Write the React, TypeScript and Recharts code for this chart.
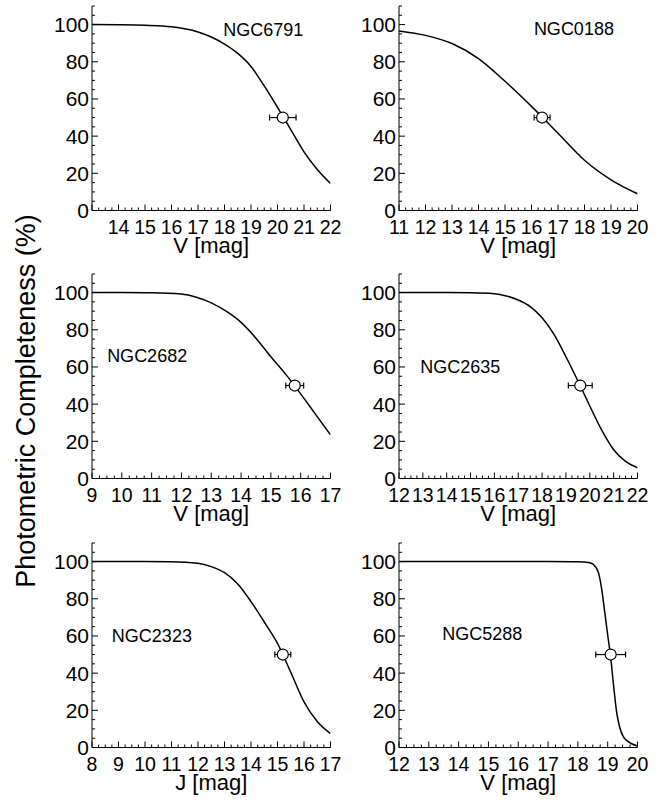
import React from "react";
import { ComposedChart, Line, Scatter, ErrorBar, XAxis, YAxis, ReferenceDot } from "recharts";

const FONT = '"Liberation Sans", Arial, Helvetica, sans-serif';

// completeness curves (magnitude -> %)
const ngc6791Mag = [13, 14, 15, 16, 17, 17.5, 18, 18.5, 19, 19.5, 20, 20.5, 21, 21.5, 22];
const ngc6791Comp = [100, 99.9, 99.6, 98.8, 96, 93.3, 89.5, 84.5, 77.5, 67, 55.5, 43.5, 31.5, 22, 14.5];

const ngc0188Mag = [11, 12, 13, 14, 15, 16, 17, 18, 19, 20];
const ngc0188Comp = [96.6, 94.2, 89.8, 81.7, 69.5, 56, 41.5, 27, 16.5, 9];

const ngc2682Mag = [9, 10, 11, 12, 12.5, 13, 13.5, 14, 14.5, 15, 15.5, 16, 16.5, 17];
const ngc2682Comp = [100, 100, 99.9, 99.2, 97.5, 94.5, 90, 84, 75.5, 65.5, 56, 45.5, 34.5, 23.5];

const ngc2635Mag = [12, 13, 14, 15, 16, 16.5, 17, 17.5, 18, 18.5, 19, 19.5, 20, 20.5, 21, 21.5, 22];
const ngc2635Comp = [100, 100, 100, 99.9, 99.4, 98.2, 96, 92.5, 86.5, 77.5, 65.5, 52.5, 39, 26, 15.5, 9.2, 5.8];

const ngc2323Mag = [8, 9, 10, 11, 12, 12.5, 13, 13.5, 14, 14.5, 15, 15.5, 16, 16.5, 17];
const ngc2323Comp = [100, 100, 100, 99.9, 99.1, 97.3, 94, 88, 78.5, 67.5, 56, 40.5, 24.5, 14, 7.5];

const ngc5288Mag = [12, 14, 16, 17, 18, 18.4, 18.6, 18.7, 18.8, 18.9, 19, 19.1, 19.2, 19.3, 19.4, 19.5, 19.7, 20];
const ngc5288Comp = [100, 100, 100, 100, 99.9, 99.4, 97, 93.5, 85, 73, 60.5, 48.5, 33, 19, 11, 6.5, 3, 0.8];

// 50% completeness magnitude and its error
const halfMag = [20.2, 16.4, 15.8, 19.6, 15.2, 19.1];
const halfErr = [0.5, 0.3, 0.3, 0.5, 0.3, 0.5];

const clusterNames = ["NGC6791", "NGC0188", "NGC2682", "NGC2635", "NGC2323", "NGC5288"];
const xTitles = ["V [mag]", "V [mag]", "V [mag]", "V [mag]", "J [mag]", "V [mag]"];
const yLabels = [0, 20, 40, 60, 80, 100];

const steps = (a: number, b: number, s: number) => {
  const out: number[] = [];
  for (let v = a; v <= b + 1e-9; v += s) out.push(+v.toFixed(2));
  return out;
};

const panels = [
  { mags: ngc6791Mag, comp: ngc6791Comp, dom: [13, 22], labels: steps(14, 22, 1), lab: [19.46, 97.5], left: 42, top: 4 },
  { mags: ngc0188Mag, comp: ngc0188Comp, dom: [11, 20], labels: steps(11, 20, 1), lab: [17.6, 98], left: 349, top: 4 },
  { mags: ngc2682Mag, comp: ngc2682Comp, dom: [9, 17], labels: steps(9, 17, 1), lab: [10.85, 66], left: 42, top: 272 },
  { mags: ngc2635Mag, comp: ngc2635Comp, dom: [12, 22], labels: steps(12, 22, 1), lab: [14.57, 60], left: 349, top: 272 },
  { mags: ngc2323Mag, comp: ngc2323Comp, dom: [8, 17], labels: steps(8, 17, 1), lab: [10.26, 60.4], left: 42, top: 541 },
  { mags: ngc5288Mag, comp: ngc5288Comp, dom: [12, 20], labels: steps(12, 20, 1), lab: [14.79, 61], left: 349, top: 541 },
];

const MAJOR = 6;
const MINOR = 3;
const XTICK_FS = 19.5;
const YTICK_FS = 21;

const bottomTick = (labels: number[]) => (p: any) => {
  const v = p.payload.value;
  const len = Number.isInteger(v) ? MAJOR : MINOR;
  return (
    <g>
      <line x1={p.x} x2={p.x} y1={p.y} y2={p.y - len} stroke="#000" />
      {labels.includes(v) && (
        <text x={p.x} y={p.y + 23} textAnchor="middle" fontSize={XTICK_FS} fontFamily={FONT} fill="#000">
          {v}
        </text>
      )}
    </g>
  );
};

const topTick = (p: any) => {
  const len = Number.isInteger(p.payload.value) ? MAJOR : MINOR;
  return <line x1={p.x} x2={p.x} y1={p.y} y2={p.y + len} stroke="#000" />;
};

const leftTick = (p: any) => {
  const v = p.payload.value;
  const len = v % 20 === 0 ? MAJOR : MINOR;
  return (
    <g>
      <line x1={p.x} x2={p.x + len} y1={p.y} y2={p.y} stroke="#000" />
      {yLabels.includes(v) && (
        <text x={p.x - 3} y={p.y + 7.5} textAnchor="end" fontSize={YTICK_FS} fontFamily={FONT} fill="#000">
          {v}
        </text>
      )}
    </g>
  );
};

const rightTick = (p: any) => {
  const len = p.payload.value % 20 === 0 ? MAJOR : MINOR;
  return <line x1={p.x} x2={p.x - len} y1={p.y} y2={p.y} stroke="#000" />;
};

const openCircle = (p: any) => <circle cx={p.cx} cy={p.cy} r={5.5} fill="#fff" stroke="#000" strokeWidth={1.2} />;

function Panel({ i }: { i: number }) {
  const pn = panels[i];
  const curve = pn.mags.map((m, k) => ({ m, c: pn.comp[k] }));
  const point = [{ m: halfMag[i], c: 50, err: halfErr[i] }];
  const xTicks = steps(pn.dom[0], pn.dom[1], 0.25);
  const yTicks = steps(0, 110, 5);
  return (
    <div style={{ position: "absolute", left: pn.left, top: pn.top }}>
      <ComposedChart width={306.5} height={258.5} margin={{ top: 2, right: 18, bottom: 0, left: 0 }}>
        <XAxis
          dataKey="m"
          type="number"
          domain={pn.dom}
          allowDataOverflow
          ticks={xTicks}
          interval={0}
          tickSize={0}
          tickMargin={0}
          tick={bottomTick(pn.labels)}
          height={52}
          stroke="#000"
          label={{ value: xTitles[i], position: "insideBottom", offset: 10, fontSize: 22, fill: "#000", fontFamily: FONT }}
        />
        <XAxis
          xAxisId="top"
          orientation="top"
          type="number"
          domain={pn.dom}
          allowDataOverflow
          ticks={xTicks}
          interval={0}
          tickSize={0}
          tickMargin={0}
          tick={topTick}
          height={0}
          stroke="#000"
        />
        <YAxis
          type="number"
          domain={[0, 110]}
          allowDataOverflow
          ticks={yTicks}
          interval={0}
          tickSize={0}
          tickMargin={0}
          tick={leftTick}
          width={50}
          stroke="#000"
        />
        <YAxis
          yAxisId="right"
          orientation="right"
          type="number"
          domain={[0, 110]}
          allowDataOverflow
          ticks={yTicks}
          interval={0}
          tickSize={0}
          tickMargin={0}
          tick={rightTick}
          width={0}
          stroke="#000"
        />
        <Line data={curve} dataKey="c" type="monotone" stroke="#000" strokeWidth={1.5} dot={false} isAnimationActive={false} />
        <Scatter data={point} dataKey="c" shape={openCircle} isAnimationActive={false}>
          <ErrorBar dataKey="err" direction="x" width={3} stroke="#000" strokeWidth={1.2} isAnimationActive={false} />
        </Scatter>
        <ReferenceDot
          x={pn.lab[0]}
          y={pn.lab[1]}
          r={0}
          fill="none"
          stroke="none"
          label={{ value: clusterNames[i], position: "center", fontSize: 18, fill: "#000", fontFamily: FONT }}
        />
      </ComposedChart>
    </div>
  );
}

export default function App() {
  return (
    <div style={{ position: "absolute", left: 0, top: 0, width: 662, height: 800, background: "#fff" }}>
      <svg width={48} height={800} style={{ position: "absolute", left: 0, top: 0 }}>
        <text
          transform="translate(35,401) rotate(-90)"
          textAnchor="middle"
          fontSize={27}
          fontFamily={FONT}
          fill="#000"
        >
          Photometric Completeness (%)
        </text>
      </svg>
      {panels.map((_, i) => (
        <Panel key={i} i={i} />
      ))}
    </div>
  );
}
